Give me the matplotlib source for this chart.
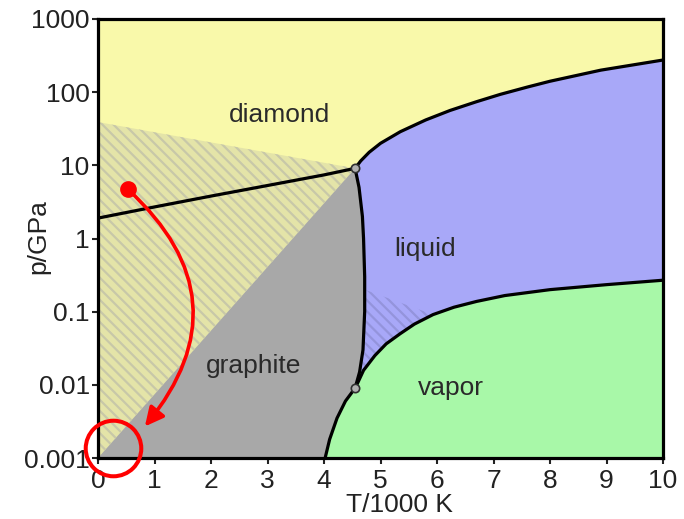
import numpy as np
import matplotlib
matplotlib.use('Agg')
import matplotlib.pyplot as plt

plt.rcParams['font.family'] = ['Liberation Sans', 'DejaVu Sans']
plt.rcParams['hatch.linewidth'] = 1.6

# phase boundaries, T in 1000 K, p in GPa
gd_T = [0.0, 1.0, 2.0, 3.0, 4.0, 4.55]            # graphite / diamond
gd_p = [1.9, 2.7, 3.8, 5.3, 7.4, 9.1]
dl_T = [4.55, 4.65, 4.8, 5.0, 5.35, 5.8, 6.23, 6.7, 7.12, 7.6, 8.0, 8.9, 10.0]  # diamond / liquid
dl_p = [9.1, 11.5, 15.1, 20.0, 28.8, 41.7, 56.2, 74.1, 93.3, 117.5, 141, 200, 275]
gl_T = [4.55, 4.62, 4.68, 4.70, 4.72, 4.72, 4.69, 4.63, 4.55]  # graphite / liquid
gl_p = [9.1, 5.0, 2.0, 1.0, 0.3, 0.1, 0.03, 0.015, 0.009]
gv_T = [4.02, 4.1, 4.23, 4.38, 4.55]              # graphite / vapor
gv_p = [0.001, 0.0018, 0.0035, 0.006, 0.009]
lv_T = [4.55, 4.7, 4.9, 5.1, 5.35, 5.6, 5.93, 6.3, 6.7, 7.2, 8.0, 9.0, 10.0]  # liquid / vapor
lv_p = [0.0089, 0.0158, 0.0251, 0.0363, 0.0501, 0.0676, 0.0912, 0.115, 0.138, 0.166, 0.2, 0.234, 0.269]

# metastable zones
meta_T = [0.0, 4.55, 0.0]
meta_p = [39, 9.1, 0.001]
liq_meta_top = (4.72, 0.2)

triple_T = [4.55, 4.55]
triple_p = [9.1, 0.009]

# cooling path
path_start = (0.53, 4.7)
path_end = (0.83, 0.0027)
origin_mark = (0.265, 0.00135)

region_labels = ['diamond', 'liquid', 'graphite', 'vapor']
label_T = [3.22, 5.79, 2.76, 6.25]
label_p = [48, 0.73, 0.018, 0.0091]

yticks = [0.001, 0.01, 0.1, 1, 10, 100, 1000]
ytick_labels = ['0.001', '0.01', '0.1', '1', '10', '100', '1000']

c_yellow = '#f9f9aa'
c_gray = '#a8a8a8'
c_blue = '#a8a8f8'
c_green = '#a8f8a8'

fig = plt.figure(figsize=(6.84, 5.19), dpi=100)
ax = fig.add_axes([98 / 684, 1 - 458 / 519, 565 / 684, 439 / 519])
ax.set_yscale('log')
ax.set_xlim(0, 10)
ax.set_ylim(0.001, 1000)
ax.set_facecolor(c_yellow)

# graphite field
g_T = [0.0] + gd_T + gl_T[1:] + gv_T[::-1][1:]
g_p = [0.001] + gd_p + gl_p[1:] + gv_p[::-1][1:]
ax.fill(g_T, g_p, color=c_gray, lw=0)

# liquid field
l_T = dl_T + [10.0] + lv_T[::-1][1:-1] + gl_T[::-1]
l_p = dl_p + [lv_p[-1]] + lv_p[::-1][1:-1] + gl_p[::-1]
ax.fill(l_T, l_p, color=c_blue, lw=0)

# vapor field
v_T = gv_T + lv_T[1:] + [10.0]
v_p = gv_p + lv_p[1:] + [0.001]
ax.fill(v_T, v_p, color=c_green, lw=0)

# hatched metastable zone left of the triple point
ax.fill(meta_T, meta_p, facecolor='#e4e4a8', edgecolor='#c8c8a8', lw=0, hatch='\\\\\\')

# hatched wedge inside the liquid field
lv_T_arr = np.array(lv_T)
lv_p_arr = np.array(lv_p)
gl_T_arr = np.array(gl_T)
gl_p_arr = np.array(gl_p)
low = lv_T_arr <= 5.93
up = gl_p_arr <= liq_meta_top[1]
w_T = [liq_meta_top[0]] + list(lv_T_arr[low][::-1]) + list(gl_T_arr[up][::-1])
w_p = [liq_meta_top[1]] + list(lv_p_arr[low][::-1]) + list(gl_p_arr[up][::-1])
ax.fill(w_T, w_p, facecolor=c_blue, edgecolor='#9494dc', lw=0, hatch='\\\\\\')

for T, p in [(gd_T, gd_p), (dl_T, dl_p), (gl_T, gl_p), (gv_T, gv_p), (lv_T, lv_p)]:
    ax.plot(T, p, color='black', lw=2.3, solid_capstyle='butt', solid_joinstyle='round')

ax.plot(triple_T, triple_p, 'o', ms=6, mfc='#b0b0b0', mec='#303030', mew=1.2, zorder=5)

for name, T, p in zip(region_labels, label_T, label_p):
    ax.text(T, p, name, fontsize=19, color='#2a2a2a', ha='center', va='center')

# cooling path arrow
ax.annotate('', xy=path_end, xytext=path_start,
            arrowprops=dict(arrowstyle='-|>', color='red', lw=2.6, mutation_scale=28,
                            shrinkA=0, shrinkB=0,
                            connectionstyle='arc3,rad=-0.47'), zorder=6)
ax.plot(*path_start, 'o', color='red', ms=11, zorder=7)
ax.plot(*origin_mark, 'o', mfc='none', mec='red', ms=40, mew=2.9, clip_on=False, zorder=7)

ax.set_yticks(yticks)
ax.set_yticklabels(ytick_labels)
ax.set_xticks(range(11))
ax.minorticks_off()
ax.tick_params(direction='out', length=4, width=1.5, labelsize=19, colors='#222222', pad=2)
ax.tick_params(axis='x', pad=4)
for s in ax.spines.values():
    s.set_linewidth(2.3)
    s.set_color('black')

ax.set_xlabel('T/1000 K', fontsize=19, color='#222222')
ax.set_ylabel('p/GPa', fontsize=19, color='#222222')
ax.xaxis.set_label_coords(0.533, -0.08)
ax.yaxis.set_label_coords(-0.085, 0.505)

fig.savefig('out.png', dpi=100)
